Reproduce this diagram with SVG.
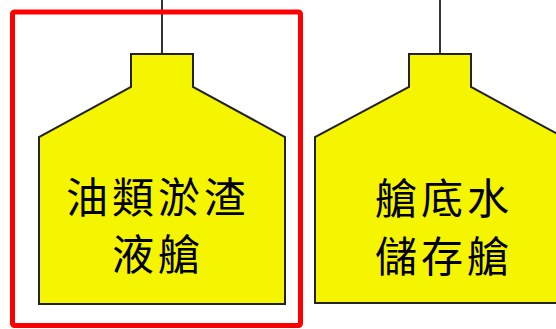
<svg xmlns="http://www.w3.org/2000/svg" width="556" height="329" viewBox="0 0 556 329">
<style>
.tank{fill:#f5f500;stroke:#222;stroke-width:2;stroke-linejoin:miter}
.lbl{font-family:"Noto Sans CJK TC","Noto Sans CJK SC",sans-serif;font-size:42px;fill:#000;text-anchor:middle;letter-spacing:4px}
.conn{stroke:#333;stroke-width:2;fill:none}
</style>
<rect width="556" height="329" fill="#fff"/>
<g id="connectors">
<line class="conn" x1="162" y1="0" x2="162" y2="54"/>
<line class="conn" x1="440" y1="0" x2="440" y2="54"/>
</g>
<g id="tank-oil-sludge">
<path class="tank" d="M131,54 H193 V87 L285,137 V304 H39 V137 L131,87 Z"/>
<text class="lbl" x="158" y="213">油類淤渣</text>
<text class="lbl" x="158" y="270">液艙</text>
</g>
<g id="tank-bilge">
<path class="tank" d="M409,54 H471 V87 L563,137 V303 H315 V137 L409,87 Z"/>
<text class="lbl" x="444" y="214">艙底水</text>
<text class="lbl" x="444" y="272">儲存艙</text>
</g>
<rect id="highlight" x="12.5" y="12" width="288" height="313.5" fill="none" stroke="#ff0000" stroke-width="5" rx="2"/>
</svg>
